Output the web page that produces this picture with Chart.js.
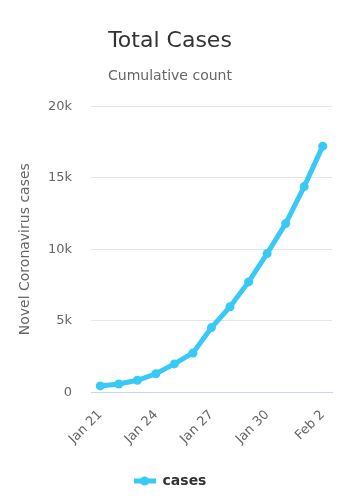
<!DOCTYPE html>
<html>
<head>
<meta charset="utf-8">
<script src="https://cdn.jsdelivr.net/npm/chart.js@4/dist/chart.umd.min.js"></script>
<style>
  html, body { margin: 0; padding: 0; background: #fff; }
  #wrap { width: 354px; height: 500px; }
</style>
</head>
<body>
<div id="wrap"><canvas id="casesChart" width="354" height="500"></canvas></div>
<script>
const dates = ['Jan 21', 'Jan 22', 'Jan 23', 'Jan 24', 'Jan 25', 'Jan 26', 'Jan 27',
               'Jan 28', 'Jan 29', 'Jan 30', 'Jan 31', 'Feb 1', 'Feb 2'];
const cases = [440, 571, 830, 1287, 1975, 2744, 4515, 5974, 7711, 9692, 11791, 14380, 17205];
const yTicks = [0, 5000, 10000, 15000, 20000];

const lineColor = '#38c9f7';
const font = '"DejaVu Sans", sans-serif';

// little line + dot for the legend
const legendIcon = document.createElement('canvas');
legendIcon.width = 22;
legendIcon.height = 12;
(function () {
    const c = legendIcon.getContext('2d');
    c.strokeStyle = lineColor;
    c.lineWidth = 5;
    c.beginPath();
    c.moveTo(0, 6);
    c.lineTo(22, 6);
    c.stroke();
    c.fillStyle = lineColor;
    c.beginPath();
    c.arc(11, 6, 4.5, 0, Math.PI * 2);
    c.fill();
})();

document.addEventListener("DOMContentLoaded", function () {
    const ctx = document.getElementById('casesChart').getContext('2d');

    new Chart(ctx, {
        type: 'line',
        data: {
            labels: dates,
            datasets: [{
                label: 'cases',
                data: cases,
                borderColor: lineColor,
                backgroundColor: lineColor,
                borderWidth: 5,
                pointRadius: 4.5,
                pointBorderWidth: 0,
                pointHoverRadius: 5,
                tension: 0
            }]
        },
        options: {
            responsive: false,
            animation: false,
            layout: {
                padding: { top: 28, left: 8, right: 22, bottom: 2 }
            },
            scales: {
                y: {
                    min: 0,
                    max: 20000,
                    afterBuildTicks: function (axis) {
                        axis.ticks = yTicks.map(v => ({ value: v }));
                    },
                    afterFit: function (axis) {
                        axis.width = 83;
                    },
                    ticks: {
                        color: '#666666',
                        font: { family: font, size: 13 },
                        padding: 19,
                        callback: v => v === 0 ? '0' : (v / 1000) + 'k'
                    },
                    grid: { color: '#e6e6e6', drawTicks: false },
                    border: { display: false },
                    title: {
                        display: true,
                        text: 'Novel Coronavirus cases',
                        color: '#666666',
                        font: { family: font, size: 14 },
                        padding: { top: 9, bottom: 0 }
                    }
                },
                x: {
                    offset: true,
                    grid: { display: false },
                    border: { display: true, color: '#ccd6eb', width: 1 },
                    ticks: {
                        color: '#666666',
                        font: { family: font, size: 13 },
                        autoSkip: false,
                        minRotation: 45,
                        maxRotation: 45,
                        padding: 7,
                        callback: function (v, i) {
                            return i % 3 === 0 ? dates[i] : '';
                        }
                    }
                }
            },
            plugins: {
                title: {
                    display: true,
                    text: 'Total Cases',
                    color: '#333333',
                    font: { family: font, size: 22, weight: 'normal' },
                    padding: { top: 0, bottom: 14 }
                },
                subtitle: {
                    display: true,
                    text: 'Cumulative count',
                    color: '#666666',
                    font: { family: font, size: 14 },
                    padding: { top: 0, bottom: 21 }
                },
                legend: {
                    position: 'bottom',
                    labels: {
                        usePointStyle: true,
                        pointStyle: legendIcon,
                        pointStyleWidth: 22,
                        color: '#333333',
                        font: { family: font, size: 14, weight: 'bold' },
                        padding: 20
                    }
                },
                tooltip: { enabled: false }
            }
        }
    });
});
</script>
</body>
</html>
